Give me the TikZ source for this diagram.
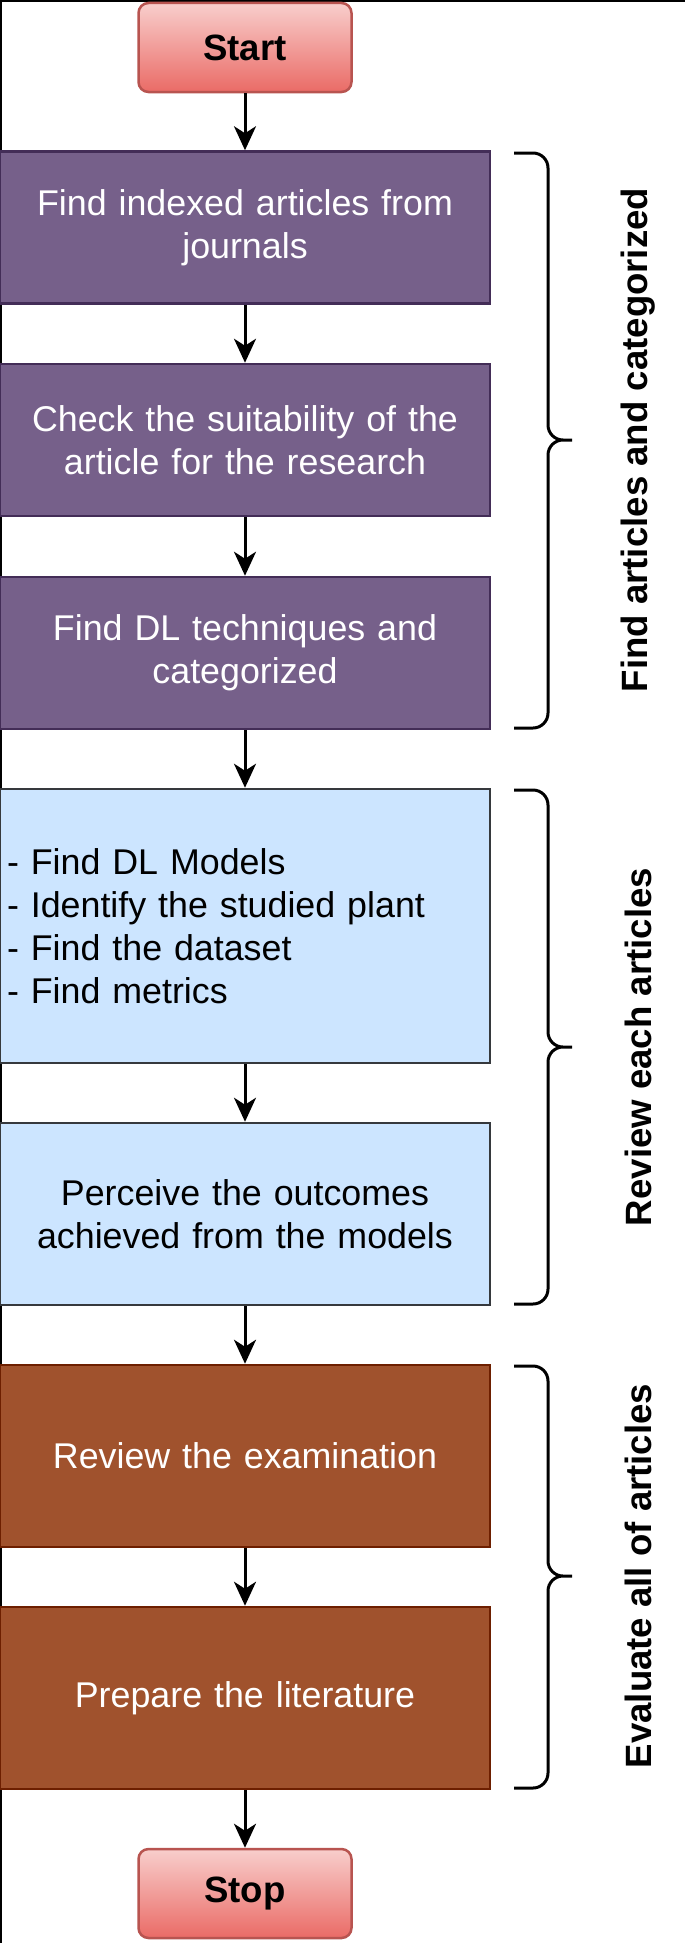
\documentclass[tikz,border=0pt]{standalone}
\usepackage{fontspec}
\setmainfont{Liberation Sans}
\usetikzlibrary{arrows.meta}

\definecolor{termtop}{HTML}{F8CECC}
\definecolor{termbot}{HTML}{EA6B66}
\definecolor{termline}{HTML}{B85450}
\definecolor{findfill}{HTML}{76608A}
\definecolor{findline}{HTML}{432D57}
\definecolor{revfill}{HTML}{CCE5FF}
\definecolor{revline}{HTML}{36393D}
\definecolor{evalfill}{HTML}{A0522D}
\definecolor{evalline}{HTML}{6D1F00}

\begin{document}
\begin{tikzpicture}[x=1pt,y=-1pt]
			\tikzstyle{terminal}=[draw=termline,line width=2.5pt,rounded corners=10pt,top color=termtop,bottom color=termbot,minimum width=213pt,minimum height=89pt,font=\bfseries\fontsize{36.6}{44}\selectfont]
			\tikzstyle{block}=[line width=2.5pt,minimum width=490pt,text width=476pt,inner xsep=7pt,align=center,font=\fontsize{35.8}{43}\selectfont]
			\tikzstyle{find}=[block,draw=findline,fill=findfill,text=white,minimum height=152pt]
			\tikzstyle{review}=[block,draw=revline,fill=revfill,minimum height=182pt]
			\tikzstyle{evaluate}=[block,draw=evalline,fill=evalfill,text=white,minimum height=182pt]
			\tikzstyle{flow}=[draw,line width=3pt,-{Stealth[length=24pt,width=22pt,inset=7pt]}]
			\tikzstyle{bracket}=[draw,line width=3pt,rounded corners=15pt]
			\tikzstyle{group label}=[rotate=90,font=\bfseries\fontsize{36.6}{44}\selectfont]
			
			\useasboundingbox (0,0) rectangle (685,1943);
			\draw[line width=2.5pt] (1,1943) -- (1,1) -- (685,1);
			
			\node[terminal] (start) at (245,47.5) {Start};
			\node[find] (b1) at (245,227.5) {Find indexed articles from\\journals};
			\node[find] (b2) at (245,440) {Check the suitability of the\\article for the research};
			\node[find] (b3) at (245,653) {Find DL techniques and\\categorized};
			\node[review,align=left,minimum height=274pt] (b4) at (245,926) {- Find DL Models\\- Identify the studied plant\\- Find the dataset\\- Find metrics};
			\node[review] (b5) at (245,1214) {Perceive the outcomes\\achieved from the models};
			\node[evaluate] (b6) at (245,1456) {Review the examination};
			\node[evaluate] (b7) at (245,1698) {Prepare the literature};
			\node[terminal] (stop) at (245,1893.5) {Stop};
			
			\draw[flow] (start) -- (b1);
			\draw[flow] (b1) -- (b2);
			\draw[flow] (b2) -- (b3);
			\draw[flow] (b3) -- (b4);
			\draw[flow] (b4) -- (b5);
			\draw[flow] (b5) -- (b6);
			\draw[flow] (b6) -- (b7);
			\draw[flow] (b7) -- (stop);
			
			\draw[bracket] (514,153) -- (548,153) -- (548,440) -- (572,440) (572,440) -- (548,440) -- (548,728) -- (514,728);
			\draw[bracket] (514,790) -- (548,790) -- (548,1047) -- (572,1047) (572,1047) -- (548,1047) -- (548,1304) -- (514,1304);
			\draw[bracket] (514,1366) -- (548,1366) -- (548,1576) -- (572,1576) (572,1576) -- (548,1576) -- (548,1788) -- (514,1788);
			
			\node[group label] (g1) at (638,440) {Find articles and categorized};
			\node[group label] (g2) at (638,1047) {Review each articles};
			\node[group label] (g3) at (638,1576) {Evaluate all of articles};
		\end{tikzpicture}
\end{document}
